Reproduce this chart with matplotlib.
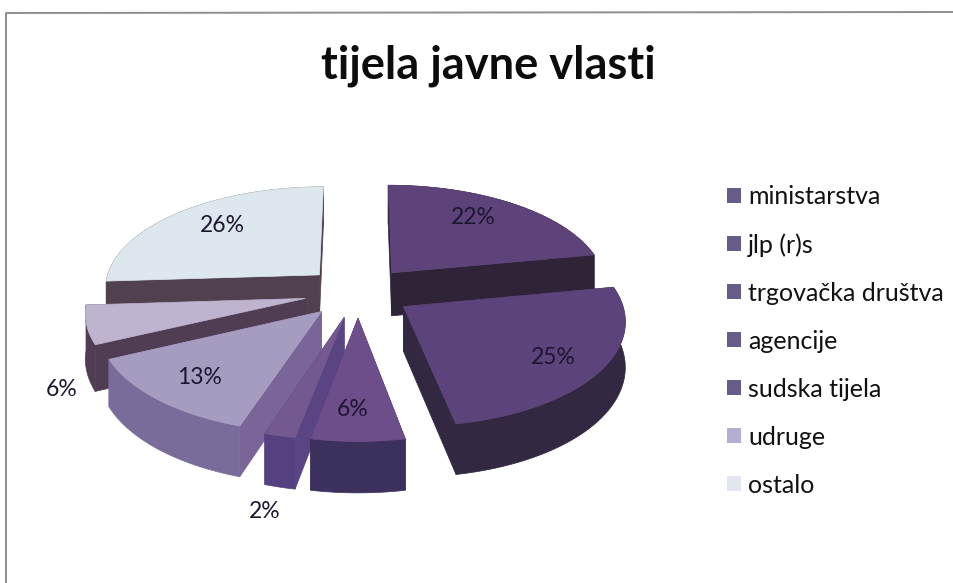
import numpy as np
import matplotlib
matplotlib.use('Agg')
import matplotlib.pyplot as plt
from matplotlib.patches import Patch

plt.rcParams['font.family'] = ['Lato', 'DejaVu Sans']

# data
categories = ['ministarstva', 'jlp (r)s', 'trgovačka društva', 'agencije',
              'sudska tijela', 'udruge', 'ostalo']
values = [22, 25, 6, 2, 13, 6, 26]

# styles, one per slice
top_colors = ['#5e437a', '#5d437b', '#6e4d8b', '#745990', '#a69cc0', '#bfb4cf', '#dde7ee']
side_colors = ['#2f2337', '#332842', '#3c305c', '#564180', '#7a6c9a', '#503d54', '#51414f']
wall_colors = ['#2f2337', '#332842', '#3c305c', '#5b4483', '#7b6497', '#503d54', '#51414f']
legend_colors = ['#675c88', '#675c88', '#675c88', '#675c88', '#675c88', '#b4aed2', '#e4e6ef']

# label placement in picture pixels
label_x = [473, 553, 353, 265, 200, 62, 222]
label_y = [218, 358, 410, 511, 377, 390, 226]

# projection of the tilted pie
CX, CY = 358, 292
RX, RY = 216, 102
PERSP = 0.117
EXPLODE = 0.25
DEPTH = 44


def project(x, y, drop=0.0):
    w = 1 + PERSP * y
    return CX + RX * x / w, CY - RY * y / w + drop / w


def slice_shape(start, end):
    mid = (start + end) / 2
    ex, ey = EXPLODE * np.sin(mid), EXPLODE * np.cos(mid)
    t = np.linspace(start, end, 60)
    return (ex, ey), ex + np.sin(t), ey + np.cos(t)


fig = plt.figure(figsize=(9.54, 5.83), dpi=100)
ax = fig.add_axes([0, 0, 1, 1])
ax.set_xlim(0, 954)
ax.set_ylim(583, 0)
ax.axis('off')

# scanned frame, top and left only
ax.plot([6, 6, 954], [583, 13, 12], color='#8f8f8f', lw=1.4)

angles = np.radians(np.cumsum([0] + values) * 3.6)
order = sorted(range(len(values)),
               key=lambda i: -slice_shape(angles[i], angles[i + 1])[0][1])

# back to front so nearer slices cover the others
for rank, i in enumerate(order):
    (ax0, ay0), xs, ys = slice_shape(angles[i], angles[i + 1])
    top_x, top_y = project(np.r_[ax0, xs], np.r_[ay0, ys])
    low_x, low_y = project(np.r_[ax0, xs], np.r_[ay0, ys], DEPTH)
    z = 2 + rank * 0.1
    # radial walls
    for k in (1, len(top_x) - 1):
        ax.fill([top_x[0], top_x[k], low_x[k], low_x[0]],
                [top_y[0], top_y[k], low_y[k], low_y[0]],
                color=wall_colors[i], lw=0.5, zorder=z)
    # outer wall
    ax.fill(np.r_[top_x[1:], low_x[:0:-1]], np.r_[top_y[1:], low_y[:0:-1]],
            color=side_colors[i], lw=0.5, zorder=z)
    ax.fill(top_x, top_y, color=top_colors[i], lw=0.5, zorder=z)

for i, v in enumerate(values):
    ax.text(label_x[i], label_y[i], f'{v}%', ha='center', va='center',
            fontsize=16.5, color='#1d1630', zorder=5)

ax.text(488, 66, 'tijela javne vlasti', ha='center', va='center',
        fontsize=32.6, fontweight='bold', color='#0c0c0c')

handles = [Patch(facecolor=c, edgecolor='none') for c in legend_colors]
ax.legend(handles, categories, loc='upper left', bbox_to_anchor=(714.5 / 954, 1 - 172.5 / 583),
          frameon=False, fontsize=18, labelspacing=1.0, handlelength=0.56,
          handleheight=0.56, handletextpad=0.28, labelcolor='#111111',
          borderpad=0, borderaxespad=0.5)

fig.savefig('out.png', dpi=100)
